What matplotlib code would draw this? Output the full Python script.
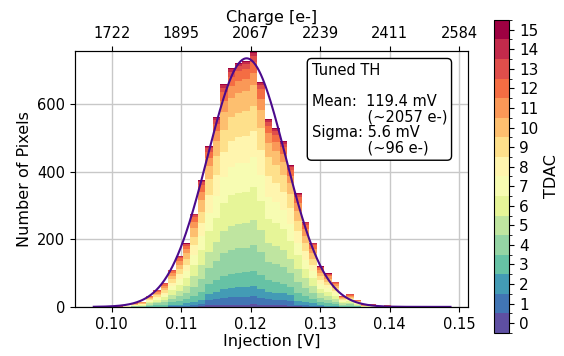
import numpy as np
import matplotlib
matplotlib.use("Agg")
import matplotlib.pyplot as plt
from matplotlib.colors import BoundaryNorm
from matplotlib.cm import ScalarMappable

# histogram bins (injection voltage), first bin left edge and bin width in V
bin_lo = 0.09954
bin_width = 0.00107

# pixel counts per bin, one list per TDAC value (stacked bottom -> top)
tdac_00 = [0, 0, 0, 0, 0, 0, 0, 0, 0, 1, 1, 1, 2, 5, 6, 7, 7, 7, 7, 8, 7, 6, 5, 5, 4,
           2, 1, 1, 1, 0, 0, 0, 0, 0, 0, 0, 0, 0, 0, 0, 0]
tdac_01 = [0, 0, 0, 0, 0, 0, 0, 0, 2, 2, 3, 4, 6, 14, 17, 20, 21, 22, 22, 23, 20, 17, 16, 15, 13,
           5, 4, 3, 2, 1, 1, 0, 0, 0, 0, 0, 0, 0, 0, 0, 0]
tdac_02 = [0, 0, 0, 0, 0, 1, 1, 1, 3, 4, 6, 8, 11, 19, 22, 26, 28, 29, 29, 30, 27, 22, 21, 20, 17,
           10, 8, 6, 4, 3, 2, 1, 1, 0, 0, 0, 0, 0, 0, 0, 0]
tdac_03 = [0, 0, 0, 1, 1, 3, 4, 6, 8, 10, 13, 19, 26, 29, 34, 39, 42, 43, 44, 45, 40, 33, 32, 29, 25,
           24, 18, 13, 8, 7, 5, 3, 3, 2, 0, 0, 0, 0, 0, 0, 0]
tdac_04 = [0, 0, 1, 1, 2, 3, 5, 7, 11, 15, 19, 28, 38, 48, 56, 66, 71, 72, 73, 76, 67, 56, 53, 49, 42,
           34, 25, 19, 12, 10, 7, 3, 4, 2, 1, 0, 0, 0, 0, 0, 0]
tdac_05 = [0, 0, 0, 1, 1, 3, 5, 7, 12, 16, 21, 30, 41, 48, 56, 66, 71, 72, 73, 76, 67, 56, 53, 49, 42,
           37, 28, 21, 13, 11, 8, 3, 4, 2, 0, 1, 0, 0, 0, 0, 0]
tdac_06 = [0, 0, 0, 1, 2, 3, 5, 7, 13, 18, 22, 34, 45, 60, 71, 83, 90, 92, 93, 96, 84, 70, 67, 62, 53,
           40, 29, 22, 14, 12, 9, 3, 4, 2, 1, 0, 0, 1, 0, 0, 0]
tdac_07 = [0, 0, 0, 1, 1, 3, 5, 7, 12, 17, 20, 30, 41, 56, 66, 78, 83, 87, 85, 88, 78, 65, 62, 57, 49,
           37, 27, 21, 13, 11, 8, 3, 4, 2, 0, 1, 0, 0, 0, 0, 0]
tdac_08 = [0, 0, 1, 1, 1, 3, 5, 7, 11, 15, 19, 28, 37, 51, 62, 72, 78, 78, 80, 78, 73, 61, 58, 54, 46,
           34, 25, 19, 12, 10, 7, 3, 3, 2, 1, 0, 0, 1, 0, 0, 0]
tdac_09 = [0, 1, 0, 1, 1, 3, 4, 7, 10, 14, 17, 25, 34, 48, 56, 66, 71, 72, 73, 74, 67, 56, 53, 49, 42,
           30, 23, 17, 11, 9, 8, 3, 3, 2, 0, 1, 0, 0, 0, 0, 0]
tdac_10 = [0, 0, 0, 1, 2, 3, 4, 7, 10, 13, 17, 25, 34, 38, 45, 53, 56, 58, 58, 61, 53, 44, 42, 39, 34,
           30, 23, 17, 11, 9, 7, 3, 3, 2, 1, 1, 0, 1, 0, 0, 0]
tdac_11 = [0, 0, 1, 1, 2, 3, 5, 6, 8, 11, 13, 19, 26, 24, 28, 33, 35, 36, 36, 38, 33, 28, 26, 25, 21,
           24, 18, 13, 8, 7, 5, 3, 4, 2, 2, 2, 1, 1, 0, 0, 0]
tdac_12 = [1, 0, 0, 2, 1, 3, 4, 5, 5, 8, 9, 14, 19, 19, 22, 26, 28, 29, 29, 30, 27, 22, 21, 20, 17,
           17, 13, 10, 6, 5, 4, 2, 3, 1, 1, 1, 0, 2, 1, 0, 0]
tdac_13 = [0, 1, 1, 1, 1, 1, 2, 3, 3, 3, 5, 7, 9, 10, 11, 13, 14, 14, 15, 18, 13, 11, 11, 10, 8,
           8, 6, 5, 3, 2, 2, 1, 1, 1, 1, 1, 1, 1, 0, 0, 0]
tdac_14 = [0, 0, 0, 0, 0, 1, 1, 1, 1, 2, 2, 3, 4, 5, 6, 7, 7, 7, 7, 10, 7, 6, 5, 5, 4,
           3, 3, 2, 1, 1, 1, 1, 1, 0, 0, 0, 0, 0, 1, 1, 0]
tdac_15 = [0, 0, 0, 0, 0, 0, 0, 1, 1, 1, 1, 1, 2, 2, 3, 3, 4, 4, 4, 6, 3, 3, 3, 2, 2,
           2, 1, 1, 1, 1, 0, 0, 0, 0, 0, 0, 0, 0, 0, 1, 1]

tdac_counts = [tdac_00, tdac_01, tdac_02, tdac_03, tdac_04, tdac_05, tdac_06, tdac_07,
               tdac_08, tdac_09, tdac_10, tdac_11, tdac_12, tdac_13, tdac_14, tdac_15]

# gaussian fit result
fit_amp = 735
fit_mean_mv = 119.4
fit_sigma_mv = 5.6

injection_ticks = [0.10, 0.11, 0.12, 0.13, 0.14, 0.15]
charge_labels = ["1722", "1895", "2067", "2239", "2411", "2584"]
count_ticks = [0, 200, 400, 600]

info_text = ("Tuned TH\n\n"
             "Mean:  119.4 mV\n"
             "            (~2057 e-)\n"
             "Sigma: 5.6 mV\n"
             "            (~96 e-)")

n_bins = len(tdac_00)
left = bin_lo + bin_width * np.arange(n_bins)

fig = plt.figure(figsize=(5.64, 3.56), dpi=100)
ax = fig.add_axes([0.133, 0.138, 0.697, 0.72])
ax.set_axisbelow(True)
ax.grid(True, color="#c8c8c8", linewidth=1.0)
for sp in ax.spines.values():
    sp.set_color("#333333")

cmap = plt.get_cmap("Spectral_r", 16)
bottom = np.zeros(n_bins)
for i, counts in enumerate(tdac_counts):
    counts = np.array(counts)
    ax.bar(left, counts, width=bin_width, bottom=bottom, align="edge",
           color=cmap(i), linewidth=0)
    bottom += counts

# fitted gaussian
xs = np.linspace(left[0] - 2 * bin_width, left[-1] + 6 * bin_width, 400)
ys = fit_amp * np.exp(-0.5 * ((xs * 1000 - fit_mean_mv) / fit_sigma_mv) ** 2)
ax.plot(xs, ys, color="#4b0a8c", linewidth=1.5)

ax.set_xlim(0.0947, 0.1513)
ax.set_ylim(0, 758)
ax.set_xticks(injection_ticks)
ax.set_xticklabels(["%.2f" % t for t in injection_ticks])
ax.set_yticks(count_ticks)
ax.tick_params(labelsize=10.5)
ax.set_xlabel("Injection [V]", fontsize=11.5, labelpad=2)
ax.set_ylabel("Number of Pixels", fontsize=11.5)

ax.text(0.602, 0.952, info_text, transform=ax.transAxes, va="top", ha="left",
        fontsize=10.5, linespacing=1.05,
        bbox=dict(boxstyle="round,pad=0.3", facecolor="white", edgecolor="black"))

ax2 = ax.twiny()
ax2.set_xlim(ax.get_xlim())
ax2.set_xticks(injection_ticks)
ax2.set_xticklabels(charge_labels)
ax2.tick_params(labelsize=10.5)
ax2.set_xlabel("Charge [e-]", fontsize=11.5, labelpad=3)

cax = fig.add_axes([0.876, 0.065, 0.027, 0.879])
norm = BoundaryNorm(np.arange(-0.5, 16.5, 1), 16)
sm = ScalarMappable(norm=norm, cmap=cmap)
cb = fig.colorbar(sm, cax=cax, ticks=range(16))
cb.ax.tick_params(labelsize=11)
cb.set_label("TDAC", fontsize=11.5)

fig.savefig("out.png", dpi=100)
